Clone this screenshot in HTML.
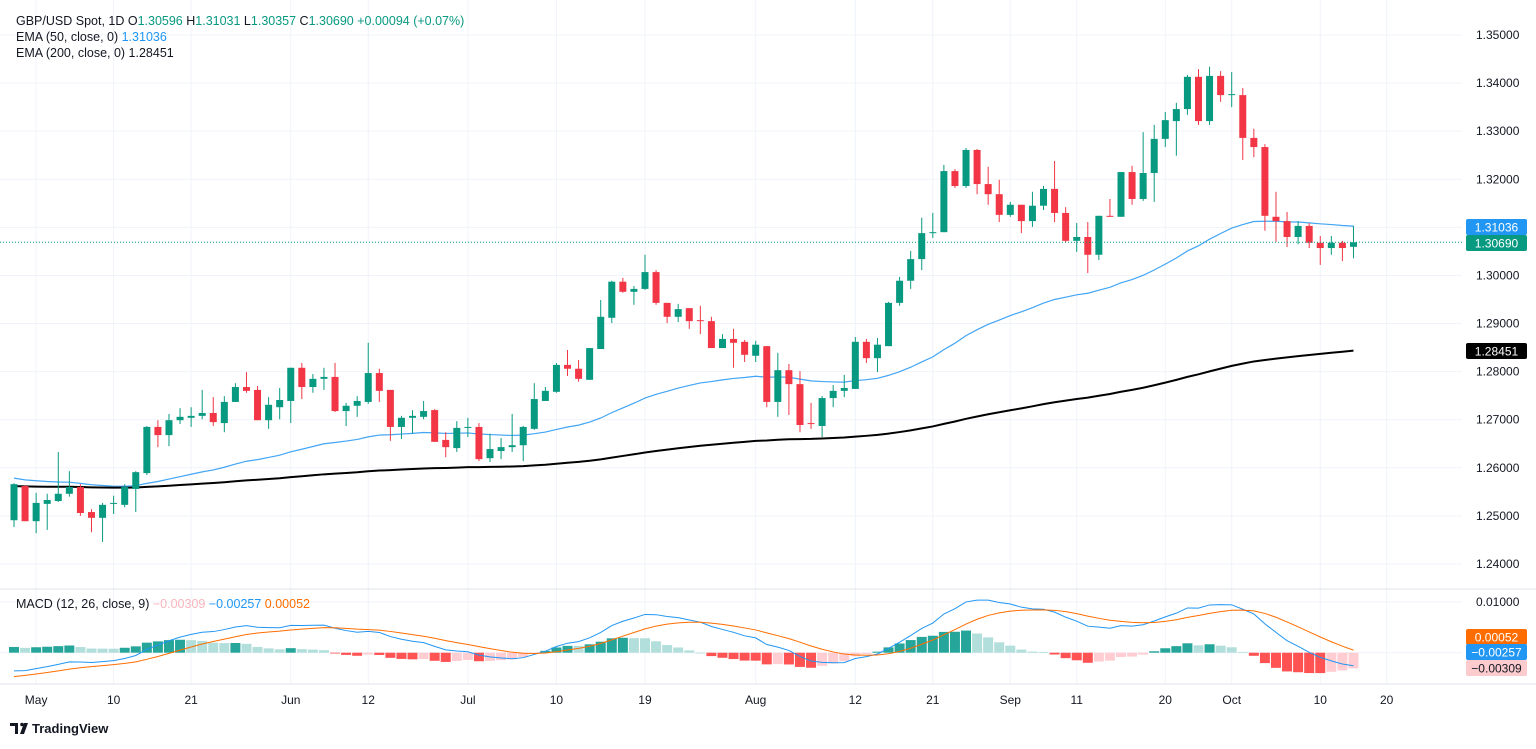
<!DOCTYPE html>
<html><head><meta charset="utf-8"><style>
body{margin:0;background:#fff;font-family:"Liberation Sans",sans-serif;}
svg text{font-family:"Liberation Sans",sans-serif;}
</style></head><body>
<svg id="c" width="1536" height="744" xmlns="http://www.w3.org/2000/svg">
<rect x="0" y="0" width="1536" height="744" fill="#fff"/>
<g id="grid"></g>
<g id="ema"></g>
<g id="candles"></g>
<g id="macd"></g>
<g id="axes"></g>
<line x1="0" y1="589" x2="1536" y2="589" stroke="#e0e3eb"/>
<line x1="0" y1="684" x2="1536" y2="684" stroke="#e0e3eb"/>
<g font-size="12.5">
<text x="16" y="25" fill="#131722">GBP/USD Spot, 1D  O<tspan fill="#089981">1.30596</tspan>  H<tspan fill="#089981">1.31031</tspan>  L<tspan fill="#089981">1.30357</tspan>  C<tspan fill="#089981">1.30690</tspan>  <tspan fill="#089981">+0.00094 (+0.07%)</tspan></text>
<text x="16" y="41" fill="#131722">EMA (50, close, 0)  <tspan fill="#2196f3">1.31036</tspan></text>
<text x="16" y="57" fill="#131722">EMA (200, close, 0)  1.28451</text>
<text x="16" y="608" fill="#131722">MACD (12, 26, close, 9)  <tspan fill="#f8b5bb">−0.00309</tspan>  <tspan fill="#2196f3">−0.00257</tspan>  <tspan fill="#ff6d00">0.00052</tspan></text>
</g>
<g>
<path d="M10 723h8v11h-3v-8h-5z M20 734l4-11h4l-4 11z" fill="#131722"/>
<circle cx="22" cy="724.5" r="1.8" fill="#131722"/>
<text x="32" y="733" font-size="13" font-weight="bold" fill="#131722">TradingView</text>
</g>
</svg>
<script>
const opens=[1.2491,1.2562,1.2489,1.2525,1.2531,1.2546,1.2560,1.2508,1.2496,1.2525,1.2523,1.2556,1.2589,1.2685,1.2668,1.2699,1.2704,1.2708,1.2714,1.2693,1.2737,1.2768,1.2762,1.2699,1.2726,1.2739,1.2808,1.2768,1.2785,1.2789,1.2718,1.2729,1.2737,1.2797,1.2762,1.2685,1.2704,1.2706,1.2720,1.2658,1.2641,1.2683,1.2685,1.2620,1.2635,1.2643,1.2647,1.2681,1.2739,1.2758,1.2814,1.2806,1.2783,1.2847,1.2912,1.2987,1.2966,1.2972,1.3007,1.2943,1.2914,1.2932,1.2907,1.2905,1.2849,1.2868,1.2862,1.2833,1.2853,1.2737,1.2803,1.2774,1.2693,1.2687,1.2745,1.2760,1.2764,1.2862,1.2828,1.2853,1.2943,1.2989,1.3034,1.3088,1.3090,1.3217,1.3186,1.3261,1.3190,1.3169,1.3126,1.3147,1.3113,1.3145,1.3180,1.3130,1.3072,1.3080,1.3043,1.3124,1.3122,1.3215,1.3159,1.3213,1.3284,1.3321,1.3346,1.3413,1.3321,1.3415,1.3375,1.3375,1.3286,1.3267,1.3122,1.3113,1.3080,1.3103,1.3068,1.3057,1.3068,1.30596];
const highs=[1.2568,1.2564,1.2548,1.2546,1.2633,1.2593,1.2566,1.2514,1.2527,1.2542,1.2566,1.2593,1.2687,1.2699,1.2712,1.2724,1.2726,1.2762,1.2747,1.2749,1.2776,1.2799,1.2770,1.2747,1.2766,1.2808,1.2818,1.2795,1.2808,1.2818,1.2735,1.2749,1.2860,1.2806,1.2762,1.2708,1.2720,1.2739,1.2722,1.2674,1.2697,1.2704,1.2693,1.2671,1.2662,1.2712,1.2687,1.2776,1.2768,1.2818,1.2845,1.2824,1.2849,1.2949,1.2989,1.2995,1.2978,1.3043,1.3011,1.2943,1.2941,1.2932,1.2937,1.2914,1.2878,1.2889,1.2866,1.2864,1.2853,1.2839,1.2816,1.2801,1.2735,1.2749,1.2772,1.2793,1.2872,1.2868,1.2870,1.2945,1.2997,1.3051,1.3120,1.3130,1.3230,1.3221,1.3265,1.3263,1.3226,1.3199,1.3153,1.3147,1.3174,1.3186,1.3238,1.3142,1.3109,1.3111,1.3124,1.3159,1.3215,1.3228,1.3298,1.3313,1.3340,1.3359,1.3417,1.3429,1.3434,1.3425,1.3423,1.3390,1.3305,1.3273,1.3174,1.3132,1.3113,1.3109,1.3082,1.3082,1.3072,1.31031];
const lows=[1.2477,1.2489,1.2464,1.2471,1.2529,1.2540,1.2500,1.2466,1.2446,1.2504,1.2518,1.2508,1.2585,1.2643,1.2645,1.2691,1.2685,1.2701,1.2687,1.2674,1.2737,1.2756,1.2699,1.2681,1.2701,1.2693,1.2743,1.2756,1.2762,1.2716,1.2687,1.2706,1.2733,1.2737,1.2656,1.2660,1.2671,1.2701,1.2654,1.2622,1.2633,1.2664,1.2614,1.2612,1.2618,1.2633,1.2614,1.2679,1.2739,1.2756,1.2791,1.2779,1.2783,1.2847,1.2901,1.2964,1.2939,1.2970,1.2939,1.2901,1.2903,1.2889,1.2878,1.2849,1.2849,1.2808,1.2820,1.2820,1.2726,1.2706,1.2710,1.2674,1.2681,1.2664,1.2726,1.2747,1.2764,1.2818,1.2799,1.2853,1.2937,1.2972,1.3011,1.3078,1.3090,1.3182,1.3182,1.3169,1.3147,1.3111,1.3122,1.3088,1.3101,1.3136,1.3111,1.3068,1.3049,1.3005,1.3032,1.3122,1.3122,1.3147,1.3155,1.3153,1.3267,1.3249,1.3334,1.3313,1.3313,1.3361,1.3350,1.3240,1.3246,1.3093,1.3070,1.3059,1.3065,1.3057,1.3022,1.3043,1.3030,1.30357];
const closes=[1.2566,1.2489,1.2527,1.2533,1.2546,1.2560,1.2506,1.2496,1.2523,1.2527,1.2560,1.2591,1.2685,1.2668,1.2699,1.2706,1.2708,1.2714,1.2695,1.2737,1.2768,1.2760,1.2699,1.2731,1.2741,1.2808,1.2768,1.2785,1.2789,1.2718,1.2729,1.2739,1.2797,1.2760,1.2685,1.2704,1.2708,1.2718,1.2654,1.2643,1.2683,1.2685,1.2618,1.2639,1.2643,1.2647,1.2685,1.2743,1.2760,1.2814,1.2806,1.2785,1.2849,1.2914,1.2987,1.2966,1.2972,1.3007,1.2943,1.2914,1.2930,1.2905,1.2905,1.2849,1.2868,1.2860,1.2835,1.2856,1.2737,1.2803,1.2774,1.2689,1.2691,1.2745,1.2760,1.2766,1.2862,1.2828,1.2856,1.2943,1.2989,1.3034,1.3088,1.3090,1.3217,1.3186,1.3261,1.3190,1.3169,1.3126,1.3147,1.3113,1.3145,1.3180,1.3130,1.3072,1.3080,1.3043,1.3124,1.3122,1.3215,1.3159,1.3213,1.3284,1.3323,1.3346,1.3413,1.3321,1.3415,1.3375,1.3377,1.3286,1.3267,1.3124,1.3113,1.3080,1.3103,1.3068,1.3057,1.3068,1.3057,1.30690];
const priceTicks=[1.35,1.34,1.33,1.32,1.31,1.30,1.29,1.28,1.27,1.26,1.25,1.24];
const macdTicks=[0.01];
const timeLabels=["May","10","21","Jun","12","Jul","10","19","Aug","12","21","Sep","11","20","Oct","10","20"];
const timeIdx=[2,9,16,25,32,41,49,57,67,76,83,90,96,104,110,118,124];
const emaSeeds=[1.2579,1.2562];
const macdSeeds=[1.2505,1.2549,-0.0050];

const NS="http://www.w3.org/2000/svg";
function mk(t,a,p){const e=document.createElementNS(NS,t);for(const k in a)e.setAttribute(k,a[k]);p.appendChild(e);return e;}
const X=i=>14+i*11.07;
const Y=p=>35+(1.35-p)*4809;
const MY=v=>652.7-v*5070;
const PR=1462;
const grid=document.getElementById('grid'),axes=document.getElementById('axes');
priceTicks.forEach(p=>{
  const l=mk('line',{x1:0,x2:PR,y1:Y(p),y2:Y(p),stroke:'#f0f3fa'},grid);
  
  
  const t=mk('text',{x:1476,y:Y(p)+4,'font-size':12,fill:'#131722'},axes);
  t.textContent=p.toFixed(5);
  
  
});
macdTicks.forEach(v=>{
  const l=mk('line',{x1:0,x2:PR,y1:MY(v),y2:MY(v),stroke:'#f0f3fa'},grid);
  
  
  const t=mk('text',{x:1476,y:MY(v)+4,'font-size':12,fill:'#131722'},axes);
  t.textContent=v.toFixed(5);
  
  
});
const z=mk('line',{x1:0,x2:PR,y1:MY(0),y2:MY(0),stroke:'#f0f3fa'},grid);


timeLabels.forEach((s,k)=>{
  const x=X(timeIdx[k]);
  const l=mk('line',{x1:x,x2:x,y1:0,y2:684,stroke:'#f0f3fa'},grid);
  
  
  const t=mk('text',{x:x,y:704,'font-size':12,fill:'#131722','text-anchor':'middle'},axes);
  t.textContent=s;
  
  
});
// EMAs
function ema(arr,n,seed){const a=2/(n+1);let e=seed;return arr.map(c=>e=a*c+(1-a)*e);}
const e50=ema(closes,50,emaSeeds[0]),e200=ema(closes,200,emaSeeds[1]);
const eg=document.getElementById('ema');
const p50=mk('polyline',{points:e50.map((v,i)=>X(i)+','+Y(v)).join(' '),fill:'none',stroke:'#42a5f5','stroke-width':1.2},eg);


const p200=mk('polyline',{points:e200.map((v,i)=>X(i)+','+Y(v)).join(' '),fill:'none',stroke:'#000','stroke-width':2},eg);


// candles
const cg=document.getElementById('candles');
closes.forEach((c,i)=>{
  const o=opens[i],up=c>=o,col=up?'#089981':'#f23645',x=X(i);
  const w=mk('line',{x1:x,x2:x,y1:Y(highs[i]),y2:Y(lows[i]),stroke:col,'stroke-width':1},cg);
  
  
  const top=Y(Math.max(o,c)),h=Math.max(1,Y(Math.min(o,c))-top);
  const b=mk('rect',{x:x-3.5,y:top,width:7,height:h,fill:col},cg);
  
  
});
const last=closes[closes.length-1];
const cl=mk('line',{x1:0,x2:PR,y1:Y(last),y2:Y(last),stroke:'#089981','stroke-dasharray':'1 2'},cg);


// MACD
const e12=ema(closes,12,macdSeeds[0]),e26=ema(closes,26,macdSeeds[1]);
const macd=e12.map((v,i)=>v-e26[i]);
const sig=ema(macd,9,macdSeeds[2]);
const mg=document.getElementById('macd');
macd.forEach((m,i)=>{
  const h=m-sig[i],prev=i?macd[i-1]-sig[i-1]:h;
  let col;
  if(h>=0)col=h>=prev?'#26a69a':'#b2dfdb';else col=h<prev?'#ff5252':'#ffcdd2';
  const y0=MY(0),y1=MY(h);
  const r=mk('rect',{x:X(i)-5,y:Math.min(y0,y1),width:10,height:Math.max(0.8,Math.abs(y1-y0)),fill:col},mg);
  
  
});
const ml=mk('polyline',{points:macd.map((v,i)=>X(i)+','+MY(v)).join(' '),fill:'none',stroke:'#2196f3','stroke-width':1},mg);


const sl=mk('polyline',{points:sig.map((v,i)=>X(i)+','+MY(v)).join(' '),fill:'none',stroke:'#ff6d00','stroke-width':1},mg);


// axis badges
function badge(y,txt,bg,fg,name){
  const g=mk('g',{},axes);
  
  
  mk('rect',{x:1466,y:y-8,width:61,height:16,rx:2,fill:bg},g);
  const t=mk('text',{x:1496.5,y:y+4.5,'font-size':12,fill:fg,'text-anchor':'middle'},g);
  t.textContent=txt;
}
badge(227,'1.31036','#2196f3','#fff','ema50-badge');
badge(243,'1.30690','#089981','#fff','last-price-badge');
badge(351,'1.28451','#000','#fff','ema200-badge');
badge(637,'0.00052','#ff6d00','#fff','signal-badge');
badge(652,'−0.00257','#2196f3','#fff','macd-badge');
badge(668,'−0.00309','#fccbcd','#131722','histogram-badge');
</script>
</body></html>
